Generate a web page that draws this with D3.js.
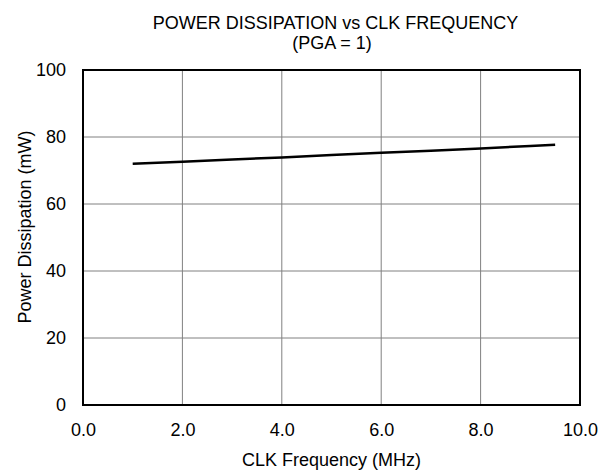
<!DOCTYPE html>
<html><head><meta charset="utf-8">
<script src="https://cdn.jsdelivr.net/npm/d3@7"></script>
<style>body{margin:0;background:#fff}svg{display:block}text{font-family:"Liberation Sans",Arial,sans-serif;fill:#000}</style>
</head><body>
<script>
const freq = [1, 2, 3, 4, 5, 6, 7, 8, 9, 9.5];
const power = [72.0, 72.6, 73.3, 73.9, 74.6, 75.3, 75.9, 76.6, 77.3, 77.7];
const xTicks = [0, 2, 4, 6, 8, 10];
const yTicks = [0, 20, 40, 60, 80, 100];
const W = 603, H = 474;
const m = {l: 83, r: 23, t: 70, b: 69};
const FS = "18px";
const svg = d3.select("body").append("svg").attr("width", W).attr("height", H);
const x = d3.scaleLinear().domain([0, 10]).range([m.l, W - m.r]);
const y = d3.scaleLinear().domain([0, 100]).range([H - m.b, m.t]);
const g = svg.append("g");
g.selectAll(".vg").data(xTicks.slice(1, -1)).enter().append("line")
  .attr("x1", d => x(d)).attr("x2", d => x(d)).attr("y1", y(0)).attr("y2", y(100))
  .attr("stroke", "#808080").attr("stroke-width", 1);
g.selectAll(".hg").data(yTicks.slice(1, -1)).enter().append("line")
  .attr("y1", d => y(d)).attr("y2", d => y(d)).attr("x1", x(0)).attr("x2", x(10))
  .attr("stroke", "#808080").attr("stroke-width", 1);
svg.append("path").datum(freq.map((f, i) => [f, power[i]]))
  .attr("d", d3.line().x(d => x(d[0])).y(d => y(d[1])))
  .attr("fill", "none").attr("stroke", "#000").attr("stroke-width", 2.5);
svg.append("rect").attr("x", x(0)).attr("y", y(100)).attr("width", x(10) - x(0)).attr("height", y(0) - y(100))
  .attr("fill", "none").attr("stroke", "#000").attr("stroke-width", 2);
const xa = svg.append("g").attr("transform", `translate(0,${y(0)})`)
  .call(d3.axisBottom(x).tickValues(xTicks).tickFormat(d3.format(".1f")).tickSize(0).tickPadding(18));
xa.select(".domain").remove();
xa.selectAll("text").style("font-size", FS);
const ya = svg.append("g").attr("transform", `translate(${x(0)},0)`)
  .call(d3.axisLeft(y).tickValues(yTicks).tickSize(0).tickPadding(17));
ya.select(".domain").remove();
ya.selectAll("text").style("font-size", FS);
svg.append("text").attr("x", 335.5).attr("y", 29).attr("text-anchor", "middle").style("font-size", FS).text("POWER DISSIPATION vs CLK FREQUENCY");
svg.append("text").attr("x", 332).attr("y", 49).attr("text-anchor", "middle").style("font-size", FS).text("(PGA = 1)");
svg.append("text").attr("x", 331.5).attr("y", 466).attr("text-anchor", "middle").style("font-size", FS).text("CLK Frequency (MHz)");
svg.append("text").attr("transform", `translate(31,227) rotate(-90)`).attr("text-anchor", "middle").style("font-size", FS).text("Power Dissipation (mW)");
</script>
</body></html>
